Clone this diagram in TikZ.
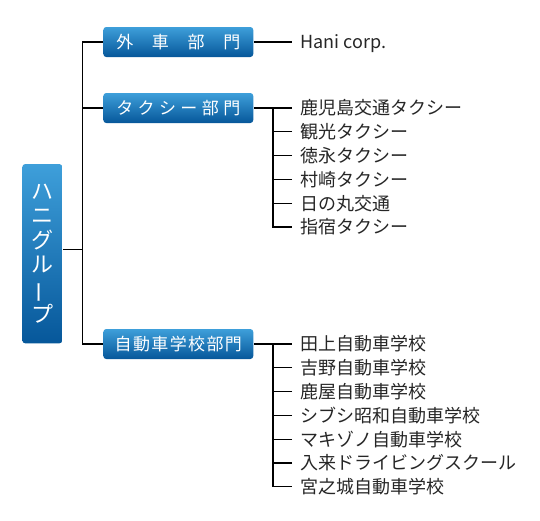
\documentclass[tikz,border=0pt]{standalone}
\usepackage{fontspec}
\setmainfont{Noto Sans CJK JP}
\usepackage{xcolor}
\usepackage{tikz}

\definecolor{hanitop}{HTML}{3E9FDA}
\definecolor{hanibot}{HTML}{06579A}

\begin{document}
\begin{tikzpicture}[x=1pt, y=1pt, line width=1.2pt,
    dept/.style={rounded corners=3pt, top color=hanitop, bottom color=hanibot, text=white,
        minimum width=150pt, minimum height=30pt, inner sep=0pt, font=\fontsize{17}{17}\selectfont},
    leaf/.style={anchor=west, inner xsep=8pt, inner ysep=0pt, text height=15.8pt, text depth=2.2pt,
        text=black!85, font=\fontsize{18}{18}\selectfont}]
                \useasboundingbox (0,0) rectangle (540,-520);

                \node[dept, minimum width=40pt, minimum height=179.3pt, align=center,
                    font=\fontsize{22}{24.3}\selectfont] (hani) at (42.3,-253.7)
                    {ハ\\ニ\\グ\\ル\\\rotatebox[origin=c]{90}{ー}\\プ};

                \node[dept] (gaisha) at (178.3,-42) {\addfontfeature{LetterSpace=5}外　車　部　門};
                \node[dept] (taxi) at (178.3,-108) {\addfontfeature{LetterSpace=26}タクシー部門};
                \node[dept] (school) at (178.3,-344) {\addfontfeature{LetterSpace=8}自動車学校部門};

                \coordinate (trunk) at (82.7,-249.3);
                \coordinate (tx) at (273,0);

                \node[leaf] (corp) at (292,-42) {Hani corp.};
                \foreach \name [count=\i from 0] in {鹿児島交通タクシー, 観光タクシー, 徳永タクシー, 村崎タクシー, 日の丸交通, 指宿タクシー}
                    \node[leaf] (t\i) at (292,-108-23.8*\i) {\name};
                \foreach \name [count=\i from 0] in {田上自動車学校, 吉野自動車学校, 鹿屋自動車学校, シブシ昭和自動車学校, マキゾノ自動車学校, 入来ドライビングスクール, 宮之城自動車学校}
                    \node[leaf] (s\i) at (292,-344-23.8*\i) {\name};

                \draw (hani.east |- trunk) -- (trunk);
                \draw (gaisha.west) -| (trunk) |- (school.west);
                \draw (taxi.west) -- (taxi.west -| trunk);

                \draw (gaisha.east) -- (corp.west);

                \draw (taxi.east) -- (t0.west);
                \draw (t0.west -| tx) |- (t5.west);
                \foreach \i in {1,...,4}
                    \draw (t\i.west) -- (t\i.west -| tx);

                \draw (school.east) -- (s0.west);
                \draw (s0.west -| tx) |- (s6.west);
                \foreach \i in {1,...,5}
                    \draw (s\i.west) -- (s\i.west -| tx);
            \end{tikzpicture}
\end{document}
